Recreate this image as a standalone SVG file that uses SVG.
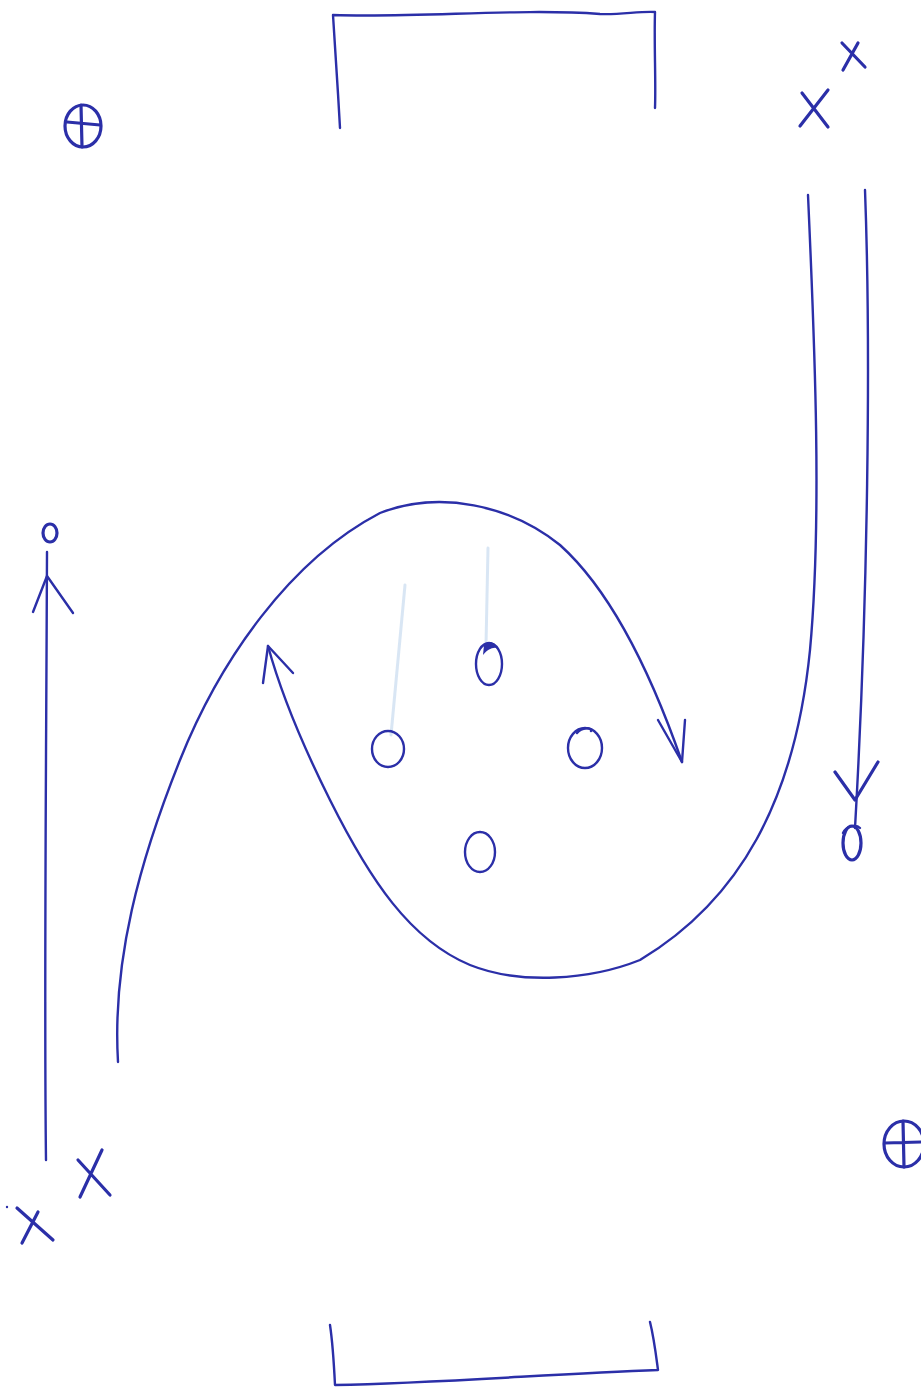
<svg xmlns="http://www.w3.org/2000/svg" width="921" height="1393" viewBox="0 0 921 1393">
<style>
.ink{fill:none;stroke:#2b2fa8;stroke-width:2.4;stroke-linecap:round;stroke-linejoin:round}
.bold{stroke-width:3.2}
.smudge{fill:none;stroke:#c9dbef;stroke-width:3;stroke-linecap:round;opacity:0.7}
</style>
<rect width="921" height="1393" fill="#ffffff"/>
<g id="goal-top">
<path class="ink" d="M340,128 C338,90 335,50 333,15 C420,18 520,8 600,14 C620,15 640,11 655,12 C654,45 656,80 655,108"/>
</g>
<g id="goal-bottom">
<path class="ink" d="M330,1325 C333,1345 334,1365 335,1385 C440,1383 550,1374 658,1370 C656,1355 654,1338 650,1322"/>
</g>
<g id="marker-top-left">
<ellipse class="ink bold" cx="83" cy="126" rx="18" ry="21"/>
<path class="ink bold" d="M81,105 L82,147 M67,122 L100,125"/>
</g>
<g id="marker-bottom-right">
<ellipse class="ink bold" cx="904" cy="1144" rx="20" ry="23"/>
<path class="ink bold" d="M903,1121 L904,1167 M885,1143 L921,1142"/>
</g>
<g id="players-top-right">
<path class="ink bold" d="M842,43 L865,67 M858,43 L843,70"/>
<path class="ink bold" d="M802,93 L828,127 M828,90 L800,126"/>
</g>
<g id="players-bottom-left">
<path class="ink bold" d="M78,1160 L110,1195 M102,1150 L80,1197"/>
<path class="ink bold" d="M17,1208 L53,1240 M38,1212 L22,1243"/>
<circle cx="7" cy="1207" r="1.2" fill="#2b2fa8"/>
</g>
<g id="ball-left">
<ellipse class="ink bold" cx="50" cy="533" rx="7" ry="9"/>
</g>
<g id="ball-right">
<ellipse class="ink bold" cx="852" cy="843" rx="9" ry="17"/>
<path class="ink" d="M843,833 C846,826 856,824 860,828"/>
</g>
<g id="cones">
<path class="smudge" d="M488,548 L486,645"/>
<path class="smudge" d="M405,585 L391,735"/>
<ellipse class="ink" cx="489" cy="664" rx="13" ry="21"/>
<path d="M484,645 C488,640 496,642 497,648 C492,647 487,650 483,655 Z" fill="#2b2fa8"/>
<ellipse class="ink" cx="388" cy="749" rx="16" ry="18"/>
<ellipse class="ink" cx="585" cy="748" rx="17" ry="20"/>
<path class="ink" d="M577,733 C582,727 592,727 591,731"/>
<ellipse class="ink" cx="480" cy="852" rx="15" ry="20"/>
</g>
<g id="connectors">
<path class="ink" d="M46,1160 C44,1000 46,800 47,552"/>
<path class="ink" d="M33,612 L47,576 L73,613"/>
<path class="ink" d="M118,1062 C112,960 140,860 180,760 C220,660 290,560 380,513 C440,490 510,505 560,545 C610,590 650,670 682,762"/>
<path class="ink" d="M658,720 L682,762 L685,720"/>
<path class="ink" d="M808,195 C815,350 822,520 810,650 C795,800 740,900 640,960 C590,980 520,985 470,965 C410,940 370,880 330,800 C300,740 280,690 268,646"/>
<path class="ink" d="M263,683 L268,646 L293,673"/>
<path class="ink" d="M865,190 C871,350 868,600 855,828"/>
<path class="ink bold" d="M835,772 L855,800 L878,762"/>
</g>
</svg>
